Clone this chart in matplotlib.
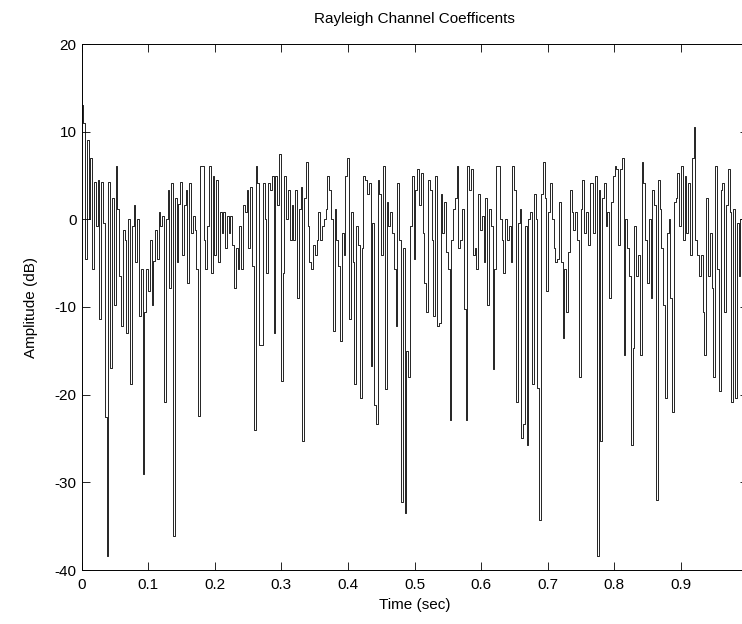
import numpy as np
import matplotlib
matplotlib.use("Agg")
import matplotlib.pyplot as plt

plt.rcParams['font.family'] = ['Liberation Sans', 'DejaVu Sans']
plt.rcParams['axes.unicode_minus'] = False

# channel amplitude in dB from left to right
amp_db = [
    13, 11, -4.5, 9, 0, 7, -5.7, 4.3, -0.8, 4.5, -11.4, 4.3, -0.4, -22.6, -38.4, 4.3, -17,
    2.4, -9.8, 6.1, 1.2, -6.5, -12.2, -1.2, -2.4, -13, 0, -18.8, -0.8, 1.6, -4.9, 0, -11, -5.7,
    -29, -10.6, -5.7, -8.2, -2.4, -9.8, -4.7, -1.2, -4.5, 0.8, -0.8, 0.4, -20.8, 0, 3.3, -7.8,
    4.1, -36.1, 2.4, -4.9, 1.8, 4.3, -4.1, 1.6, 3.3, -7.3, 4.1, -1.6, 0.4, -1.2, -5.7, -22.4, 6.1,
    6.1, -2.4, -5.7, -0.8, 6.1, -6.1, 4.9, -4.1, 4.5, -4.9, 0.8, -1.6, 0.8, -3.3, 0.4, -1.6,
    0.4, -2.9, -7.8, -3.3, -5.7, -0.8, -5.7, 1.6, 0.8, 3.3, -3.3, 3.7, -5.3, -24, 6.1, 4.1, -14.3,
    -14.3, 4.1, 0, -6.1, 4.1, 3.3, 4.9, -13, 4.9, 1.6, 7.5, -18.4, -6.1, 4.9, 0, 3.3, -2.4,
    1.6, -2.4, 3.3, -9, 1.2, 3.7, -25.3, 2.4, 6.5, -0.8, -4.9, -5.7, -2.9, -4.1, -2.4, 0.8,
    -2.4, -0.8, 0, 1.2, 4.9, 3.3, 0, -12.7, 1.2, -2.4, -5.3, -13.9, -1.6, -4.1, 4.9, 7, -11.4,
    0.8, -4.9, -18.8, -0.8, -2.9, -20.4, -3.3, 4.9, 4.5, 2.9, 4.1, -16.7, -0.4, -21.2, -23.3, 4.5,
    2.9, -4.1, 6.1, -19.4, 2, -0.8, 0.8, -1.6, -5.7, -12.2, 4.1, -2.4, -32.2, -3.3, -33.5, -15,
    -18, -0.8, 4.9, -4.5, 3.3, 5.7, 1.6, 5.3, -1.6, -7.3, -10.6, 4.5, 3.3, -2.4, -11, 4.9, -12.2,
    -11.8, 2.9, -1.6, 2, -3.7, -5.7, -22.9, -2.4, 1.2, 2.4, 6.1, -3.3, -2.4, 1.2, -10.2, -22.9,
    6.1, 3.3, 5.7, -4.1, -3.3, -5.7, 2.9, -1.2, 0.4, -4.9, 2.4, -9.8, 1.2, -0.8, -17.1, -5.7, 6.1,
    6.1, 0, -2.4, -6.1, 0, -2.4, -0.8, -4.9, 6.1, 3.3, -20.8, -0.4, 1.2, -24.9, -23.3, -0.8,
    -25.7, 0, 0.8, -18.8, 2.9, 0, -19.2, -34.3, 2.9, 6.5, 2.4, -8.2, 0.8, 4.1, 0, -3.3, -4.9,
    -4.5, 2, -4.9, -13.5, -5.7, -10.6, -3.7, 3.3, 0.8, -1.2, 0.8, -2.4, -18, 1.2, 4.5, -1.6,
    0.8, -2.9, 4.1, 4.1, -1.6, 4.9, -38.4, 3.3, -25.3, 2.4, 4.1, -0.8, 0.8, -9, 2, 4.9, 6.1,
    5.7, -2.9, 5.7, 7, -15.5, 0, -3.3, -6.5, -25.7, -14.7, -0.8, -6.5, -4.1, -15.5, 6.5, 4.1,
    -2.4, -7.3, 0, -9, 3.3, 1.6, -32, 4.5, 1.2, -3.3, -9.8, -20.4, -1.6, 0, -9, -22, 2,
    2.4, 5.3, -0.8, 6.1, -2.4, 4.9, -1.6, 4.1, -4.1, 7, 10.5, -2.4, -4.1, -6.5, -4.1, -10.6,
    -15.5, 2.4, -6.5, -1.6, -7.8, -18, 6.1, -5.7, -19.6, 3.3, 4.1, -10.6, 1.6, 5.7, 0.8,
    -20.8, 1.2, -20.4, -0.4, -6.5, 0, -9.8, -1.5, -12,
]
x_ticks = [0, 0.1, 0.2, 0.3, 0.4, 0.5, 0.6, 0.7, 0.8, 0.9]
y_ticks = [-40, -30, -20, -10, 0, 10, 20]

n = len(amp_db)
t = np.arange(n) / n

fig = plt.figure(figsize=(7.42, 6.24), dpi=100)
ax = fig.add_axes([81.5 / 742, 54 / 624, 666 / 742, 526 / 624])

ax.plot(t, amp_db, color='black', linewidth=0.6, drawstyle='steps-post')

ax.set_xlim(0, 1)
ax.set_ylim(-40, 20)
ax.set_xticks(x_ticks)
ax.set_xticklabels([str(v) for v in x_ticks])
ax.set_yticks(y_ticks)
ax.tick_params(direction='in', top=True, right=True, length=6, width=0.6, labelsize=11)
ax.tick_params(axis='x', pad=6)
for s in ax.spines.values():
    s.set_linewidth(0.7)

ax.set_title('Rayleigh Channel Coefficents', fontsize=11, pad=15)
ax.set_xlabel('Time (sec)', fontsize=11, labelpad=4)
ax.set_ylabel('Amplitude (dB)', fontsize=11, labelpad=12)

fig.savefig('out.png', dpi=100)
